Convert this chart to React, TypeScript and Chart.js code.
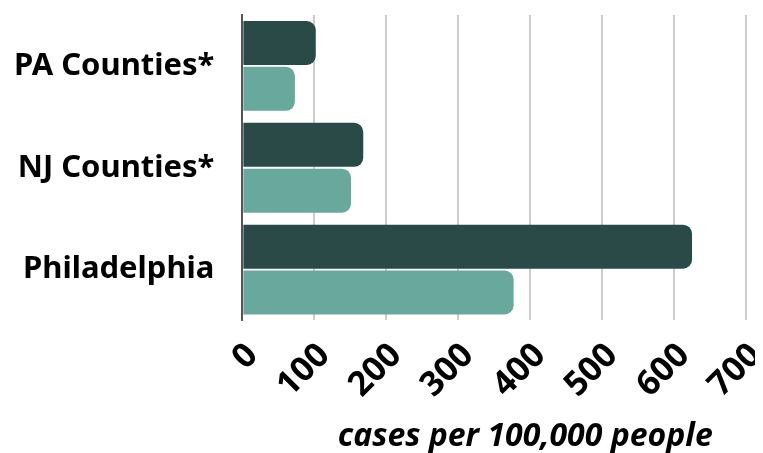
import React, { useEffect, useRef } from "react";
import { Chart, registerables } from "chart.js";

Chart.register(...registerables);

const categories = ["PA Counties*", "NJ Counties*", "Philadelphia"];
const seriesDark = [102, 168, 625];
const seriesLight = [73, 151, 377];
const xTicks = [0, 100, 200, 300, 400, 500, 600, 700];
const axisTitle = "cases per 100,000 people";

const FONT = "'Noto Sans', sans-serif";

export default function App() {
  const ref = useRef<HTMLCanvasElement | null>(null);
  useEffect(() => {
    if (!ref.current) return;
    const chart = new Chart(ref.current, {
      type: "bar",
      data: {
        labels: categories,
        datasets: [
          {
            label: "A",
            data: seriesDark,
            backgroundColor: "#2a4a48",
            borderRadius: 9,
            borderSkipped: "start",
            categoryPercentage: 0.9,
            barPercentage: 0.96,
          },
          {
            label: "B",
            data: seriesLight,
            backgroundColor: "#69a89c",
            borderRadius: 9,
            borderSkipped: "start",
            categoryPercentage: 0.9,
            barPercentage: 0.96,
          },
        ],
      },
      options: {
        indexAxis: "y",
        animation: false,
        responsive: true,
        maintainAspectRatio: false,
        layout: { padding: { top: 7, left: 4, right: 0, bottom: 0 } },
        plugins: { legend: { display: false }, tooltip: { enabled: false } },
        scales: {
          x: {
            min: 0,
            max: 700,
            afterBuildTicks: (s: any) => {
              s.ticks = xTicks.map((v) => ({ value: v }));
            },
            afterFit: (s: any) => {
              s.paddingRight = 9;
              s.paddingLeft = 0;
            },
            grid: {
              color: "#cccccc",
              lineWidth: 2,
              drawTicks: true,
              tickLength: 15,
              tickColor: "rgba(0,0,0,0)",
            },
            border: { display: false },
            ticks: {
              minRotation: 45,
              maxRotation: 45,
              padding: 0,
              labelOffset: 10,
              color: "#000",
              font: { family: FONT, weight: "bold", size: 34 },
            },
            title: {
              display: true,
              text: axisTitle + "\u00a0\u00a0\u00a0\u00a0",
              align: "end",
              color: "#000",
              padding: { top: 12, bottom: 1 },
              font: { family: FONT, weight: "bold", style: "italic", size: 32 },
            },
          },
          y: {
            afterFit: (s: any) => {
              s.paddingTop = 0;
              s.paddingBottom = 0;
            },
            grid: { display: false, drawTicks: true, tickLength: 26 },
            border: { display: true, color: "#555", width: 2 },
            ticks: {
              padding: 2,
              color: "#000",
              font: { family: FONT, weight: "bold", size: 31 },
            },
          },
        },
      },
    });
    return () => chart.destroy();
  }, []);
  return (
    <div style={{ width: 747, height: 449, position: "relative" }}>
      <canvas ref={ref} />
    </div>
  );
}
